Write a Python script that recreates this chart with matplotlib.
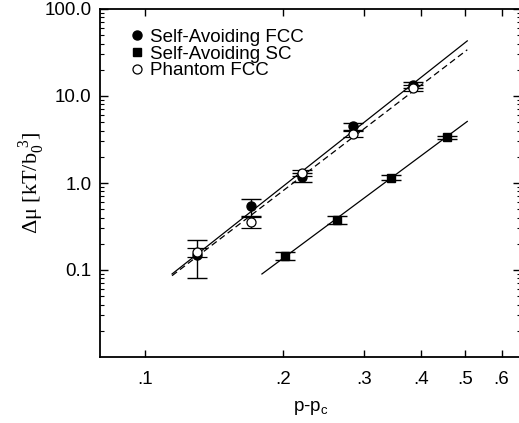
import matplotlib
matplotlib.use("Agg")
import matplotlib.pyplot as plt
from matplotlib.lines import Line2D
from matplotlib.ticker import FixedLocator, LogLocator, NullFormatter, NullLocator

plt.rcParams['font.family'] = ['Liberation Sans', 'DejaVu Sans']
plt.rcParams['mathtext.fontset'] = 'custom'
plt.rcParams['mathtext.rm'] = 'Liberation Serif'
plt.rcParams['mathtext.sf'] = 'Liberation Sans'

# --- data ---
fcc_x = [0.13, 0.17, 0.22, 0.285, 0.385]
fcc_y = [0.15, 0.54, 1.17, 4.5, 13.5]
fcc_err = [0.07, 0.12, 0.15, 0.4, 1.0]

ph_x = [0.13, 0.17, 0.22, 0.285, 0.385]
ph_y = [0.16, 0.355, 1.3, 3.7, 12.4]
ph_err = [0.02, 0.05, 0.1, 0.3, 1.0]

sc_x = [0.202, 0.262, 0.344, 0.456]
sc_y = [0.145, 0.38, 1.15, 3.35]
sc_err = [0.015, 0.04, 0.08, 0.15]

fit_fcc_x = [0.1146, 0.505]
fit_fcc_y = [0.09, 43.0]
fit_ph_x = [0.1146, 0.505]
fit_ph_y = [0.086, 34.0]
fit_sc_x = [0.18, 0.505]
fit_sc_y = [0.09, 5.1]

labels = ['Self-Avoiding FCC', 'Self-Avoiding SC', 'Phantom FCC']

x_ticks = [0.1, 0.2, 0.3, 0.4, 0.5, 0.6]
x_ticklabels = ['.1', '.2', '.3', '.4', '.5', '.6']
y_ticks = [0.1, 1.0, 10.0, 100.0]
y_ticklabels = ['0.1', '1.0', '10.0', '100.0']

fig = plt.figure(figsize=(5.19, 4.23), dpi=100)
ax = fig.add_axes([100/519, 1-357/423, 1.003-100/519, (357-9)/423])
ax.set_xscale('log')
ax.set_yscale('log')

ax.plot(fit_fcc_x, fit_fcc_y, color='black', lw=0.9)
ax.plot(fit_ph_x, fit_ph_y, color='black', lw=0.9, ls=(0, (5, 3)))
ax.plot(fit_sc_x, fit_sc_y, color='black', lw=0.9)

fcc_style = dict(marker='o', ms=6.5, mfc='black', mec='black')
sc_style = dict(marker='s', ms=6, mfc='black', mec='black')
ph_style = dict(marker='o', ms=6.5, mfc='white', mec='black', mew=0.9)

ekw = dict(ecolor='black', elinewidth=1.0, capsize=7, capthick=1.0, ls='none')
ax.errorbar(fcc_x, fcc_y, yerr=fcc_err, **fcc_style, **ekw)
ax.errorbar(sc_x, sc_y, yerr=sc_err, **sc_style, **ekw)
ax.errorbar(ph_x, ph_y, yerr=ph_err, **ph_style, **ekw)

ax.set_xlim(0.0798, 0.660)
ax.set_ylim(0.01, 100)

ax.xaxis.set_major_locator(FixedLocator(x_ticks))
ax.set_xticklabels(x_ticklabels)
ax.xaxis.set_minor_locator(NullLocator())
ax.yaxis.set_major_locator(FixedLocator(y_ticks))
ax.set_yticklabels(y_ticklabels)
ax.yaxis.set_minor_locator(LogLocator(base=10, subs=range(2, 10)))
ax.yaxis.set_minor_formatter(NullFormatter())

ax.tick_params(axis='x', which='major', direction='in', top=True, bottom=True,
               length=5, width=1.0, labelsize=13.5, pad=10)
ax.tick_params(axis='y', which='major', direction='in', left=True, right=True,
               length=6, width=1.0, labelsize=13.5, pad=6)
ax.tick_params(axis='y', which='minor', direction='in', left=True, right=True,
               length=3, width=0.8)
for s in ax.spines.values():
    s.set_linewidth(1.3)

ax.set_xlabel(r'p-p$_{\mathsf{c}}$', fontsize=13.5, labelpad=8)
ax.set_ylabel(r'Δμ [kT/b$_{\mathrm{0}}^{\ \mathrm{3}}$]', fontsize=16, labelpad=-2,
              fontfamily=['Liberation Serif', 'DejaVu Serif'])

handles = [Line2D([], [], ls='none', **fcc_style),
           Line2D([], [], ls='none', **sc_style),
           Line2D([], [], ls='none', **ph_style)]
leg = ax.legend(handles, labels, loc='upper left', bbox_to_anchor=(0.077, 0.943),
                frameon=False, fontsize=13.5, handlelength=0.5, handletextpad=0.45,
                labelspacing=-0.02, borderpad=0, borderaxespad=0)

fig.savefig('out.png', dpi=100)
